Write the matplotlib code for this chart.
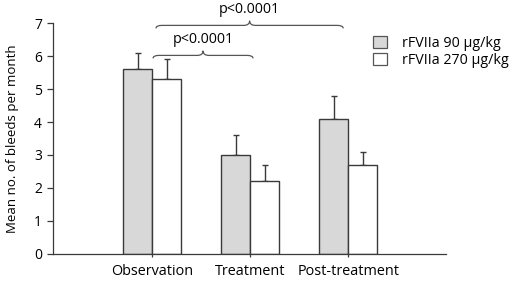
import matplotlib
matplotlib.use("Agg")
import matplotlib.pyplot as plt
from matplotlib.path import Path
from matplotlib.patches import PathPatch, Patch
import numpy as np

categories = ["Observation", "Treatment", "Post-treatment"]
series_names = ["rFVIIa 90 \u03bcg/kg", "rFVIIa 270 \u03bcg/kg"]
dose90 = [5.6, 3.0, 4.1]
dose90_err = [0.5, 0.6, 0.7]
dose270 = [5.3, 2.2, 2.7]
dose270_err = [0.6, 0.5, 0.4]
yticks = [0, 1, 2, 3, 4, 5, 6, 7]
p_labels = ["p<0.0001", "p<0.0001"]

plt.rcParams['font.family'] = ['Open Sans', 'DejaVu Sans']

fig = plt.figure(figsize=(5.2, 2.85), dpi=100)
ax = fig.add_axes([0.102, 0.109, 0.756, 0.810])

x = np.arange(len(categories))
w = 0.296
edge = "#3a3a3a"
ax.bar(x - w / 2, dose90, w, color="#d8d8d8", edgecolor=edge, linewidth=1.0, zorder=2)
ax.bar(x + w / 2, dose270, w, color="white", edgecolor=edge, linewidth=1.0, zorder=2)
ax.errorbar(x - w / 2, dose90, yerr=[np.zeros(3), dose90_err], fmt="none",
            ecolor=edge, elinewidth=1.0, capsize=2.5, capthick=1.0, zorder=1)
ax.errorbar(x + w / 2, dose270, yerr=[np.zeros(3), dose270_err], fmt="none",
            ecolor=edge, elinewidth=1.0, capsize=2.5, capthick=1.0, zorder=1)

ax.set_xlim(-1.01, 3.0)
ax.set_ylim(0, 7)
ax.set_yticks(yticks)
ax.set_xticks(x)
ax.set_xticklabels(categories, fontsize=10.4)
ax.tick_params(axis="y", labelsize=10, length=4, width=0.9, color=edge, pad=4)
ax.tick_params(axis="x", length=5, width=0.9, color=edge, pad=5, direction="inout")
for s in ["top", "right"]:
    ax.spines[s].set_visible(False)
for s in ["left", "bottom"]:
    ax.spines[s].set_color(edge)
    ax.spines[s].set_linewidth(0.9)
ax.set_ylabel("Mean no. of bleeds per month", fontsize=9.5, labelpad=11)


def brace(ax, x0, x1, y, label, drop=0.09, rise=0.14, dx=0.06):
    xm = (x0 + x1) / 2
    verts = [
        (x0, y - drop), (x0, y), (x0 + dx, y),
        (xm - dx, y),
        (xm, y), (xm, y + rise),
        (xm, y), (xm + dx, y),
        (x1 - dx, y),
        (x1, y), (x1, y - drop),
    ]
    codes = [Path.MOVETO, Path.CURVE3, Path.CURVE3, Path.LINETO,
             Path.CURVE3, Path.CURVE3, Path.CURVE3, Path.CURVE3,
             Path.LINETO, Path.CURVE3, Path.CURVE3]
    ax.add_patch(PathPatch(Path(verts, codes), facecolor="none", edgecolor="#555555",
                           linewidth=0.9, clip_on=False))
    ax.text(xm, y + rise + 0.1, label, ha="center", va="bottom", fontsize=10.3, clip_on=False)


brace(ax, 0.01, 1.03, 6.02, p_labels[0])
brace(ax, 0.04, 1.95, 6.93, p_labels[1])

handles = [Patch(facecolor="#d8d8d8", edgecolor="#555555", linewidth=0.9),
           Patch(facecolor="white", edgecolor="#555555", linewidth=0.9)]
fig.legend(handles, series_names, loc="upper left", bbox_to_anchor=(373 / 520, 1 - 36 / 285),
           frameon=False, fontsize=10.3, handlelength=1.0, handleheight=0.9,
           borderpad=0, borderaxespad=0, labelspacing=0.12, handletextpad=1.0)

fig.savefig("out.png", dpi=100)
